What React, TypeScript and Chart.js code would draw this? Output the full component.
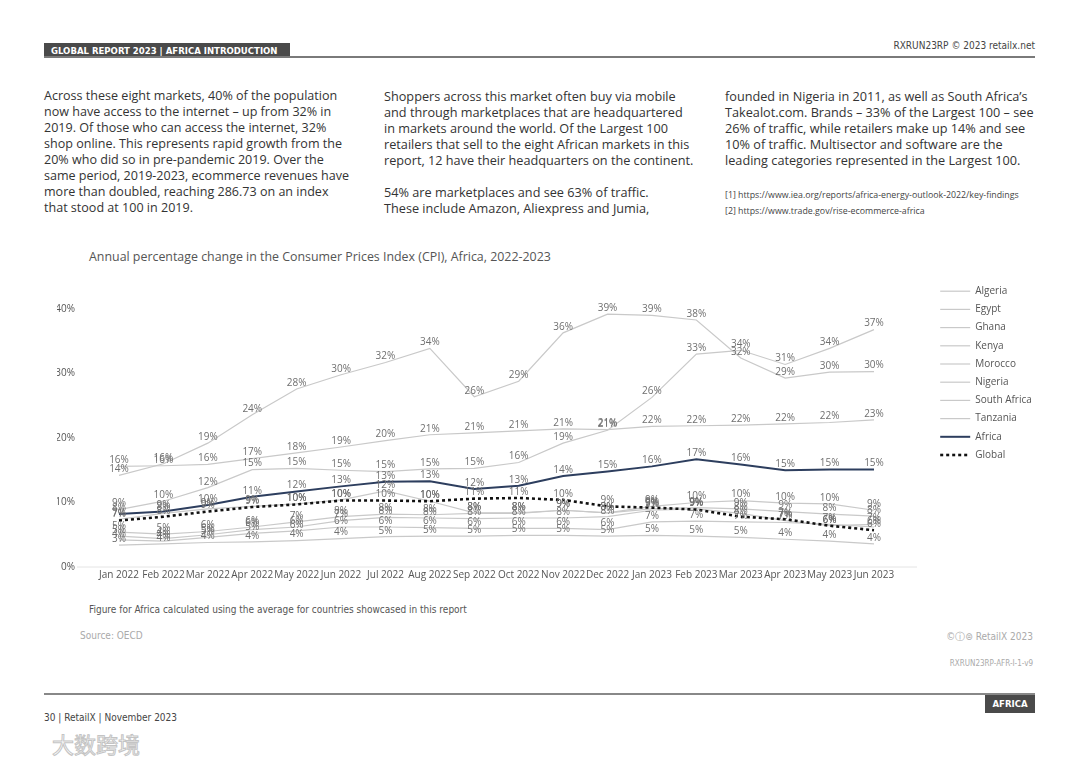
import React, { useEffect, useRef } from 'react';
import { Chart, registerables } from 'chart.js';

Chart.register(...registerables);

const months = [
  'Jan 2022', 'Feb 2022', 'Mar 2022', 'Apr 2022', 'May 2022', 'Jun 2022',
  'Jul 2022', 'Aug 2022', 'Sep 2022', 'Oct 2022', 'Nov 2022', 'Dec 2022',
  'Jan 2023', 'Feb 2023', 'Mar 2023', 'Apr 2023', 'May 2023', 'Jun 2023',
];

const algeria = [7.4, 8.3, 9.0, 9.4, 9.8, 10.4, 11.8, 10.2, 8.4, 8.4, 8.8, 8.4, 9.4, 10.0, 10.3, 9.9, 9.8, 8.8];
const egypt = [8.9, 10.2, 12.3, 15.1, 15.3, 15.0, 14.8, 15.2, 15.3, 16.2, 19.2, 21.2, 26.3, 33.0, 33.6, 31.4, 33.9, 36.8];
const ghana = [14.2, 16.0, 19.2, 23.6, 27.6, 29.8, 31.7, 33.9, 26.4, 28.8, 36.3, 39.2, 39.0, 38.3, 32.4, 29.3, 30.2, 30.3];
const kenya = [5.4, 5.1, 5.5, 6.2, 7.0, 7.8, 8.2, 8.1, 8.3, 8.3, 8.8, 8.4, 9.0, 9.2, 9.0, 8.6, 8.2, 7.9];
const morocco = [4.8, 4.4, 5.0, 5.8, 6.2, 7.2, 7.7, 7.6, 7.5, 7.6, 7.6, 7.8, 8.8, 9.0, 8.3, 7.2, 6.4, 6.6];
const nigeria = [15.6, 15.7, 15.9, 16.8, 17.7, 18.6, 19.6, 20.5, 20.8, 21.1, 21.4, 21.3, 21.8, 21.9, 22.0, 22.2, 22.4, 22.8];
const southAfrica = [4.2, 4.0, 4.6, 5.2, 5.6, 6.2, 6.2, 6.1, 6.0, 6.0, 6.0, 5.8, 7.0, 7.1, 7.0, 6.9, 6.6, 6.2];
const tanzania = [3.4, 3.6, 3.8, 3.9, 4.1, 4.4, 4.7, 4.8, 4.8, 4.9, 4.9, 4.8, 4.9, 4.8, 4.6, 4.3, 4.0, 3.6];
const africa = [8.2, 8.6, 9.6, 10.9, 11.7, 12.5, 13.2, 13.3, 12.1, 12.6, 14.1, 14.8, 15.6, 16.7, 15.9, 15.0, 15.1, 15.1];
const global = [7.2, 7.8, 8.6, 9.3, 9.7, 10.3, 10.3, 10.2, 10.6, 10.7, 10.4, 9.4, 9.2, 8.9, 7.8, 7.4, 6.4, 5.7];

const countryNames = ['Algeria', 'Egypt', 'Ghana', 'Kenya', 'Morocco', 'Nigeria', 'South Africa', 'Tanzania'];
const countrySeries = [algeria, egypt, ghana, kenya, morocco, nigeria, southAfrica, tanzania];

const yTickValues = [0, 10, 20, 30, 40];

const sans = "'Open Sans', 'Noto Sans', sans-serif";
const condensed = "'DejaVu Sans Condensed', 'Liberation Sans Narrow', 'DejaVu Sans', sans-serif";

const col1 = [
  'Across these eight markets, 40% of the population',
  'now have access to the internet – up from 32% in',
  '2019. Of those who can access the internet, 32%',
  'shop online. This represents rapid growth from the',
  '20% who did so in pre-pandemic 2019. Over the',
  'same period, 2019-2023, ecommerce revenues have',
  'more than doubled, reaching 286.73 on an index',
  'that stood at 100 in 2019.',
];
const col2 = [
  'Shoppers across this market often buy via mobile',
  'and through marketplaces that are headquartered',
  'in markets around the world. Of the Largest 100',
  'retailers that sell to the eight African markets in this',
  'report, 12 have their headquarters on the continent.',
  ' ',
  '54% are marketplaces and see 63% of traffic.',
  'These include Amazon, Aliexpress and Jumia,',
];
const col3 = [
  'founded in Nigeria in 2011, as well as South Africa’s',
  'Takealot.com. Brands – 33% of the Largest 100 – see',
  '26% of traffic, while retailers make up 14% and see',
  '10% of traffic. Multisector and software are the',
  'leading categories represented in the Largest 100.',
];
const notes = [
  '[1] https://www.iea.org/reports/africa-energy-outlook-2022/key-findings',
  '[2] https://www.trade.gov/rise-ecommerce-africa',
];

const pointLabelPlugin = {
  id: 'pointLabels',
  afterDatasetsDraw(chart: any) {
    const ctx = chart.ctx;
    ctx.save();
    ctx.font = `10px ${sans}`;
    ctx.fillStyle = '#6f6f6f';
    ctx.textAlign = 'center';
    ctx.textBaseline = 'middle';
    chart.data.datasets.forEach((ds: any, i: number) => {
      const meta = chart.getDatasetMeta(i);
      meta.data.forEach((pt: any, j: number) => {
        const v = ds.data[j];
        ctx.fillText(Math.round(v) + '%', pt.x, pt.y - 6);
      });
    });
    ctx.restore();
  },
};

const baselinePlugin = {
  id: 'baseline',
  beforeDatasetsDraw(chart: any) {
    const { ctx, chartArea } = chart;
    const y = chart.scales.y.getPixelForValue(0);
    ctx.save();
    ctx.strokeStyle = '#e4e4e4';
    ctx.lineWidth = 1;
    ctx.beginPath();
    ctx.moveTo(chartArea.left - 42, y);
    ctx.lineTo(chartArea.right + 43, y);
    ctx.stroke();
    ctx.restore();
  },
};

function CpiChart() {
  const ref = useRef<HTMLCanvasElement | null>(null);
  useEffect(() => {
    if (!ref.current) return;
    Chart.defaults.font.family = sans;
    const datasets: any[] = countryNames.map((name, i) => ({
      label: name,
      data: countrySeries[i],
      borderColor: '#c9c9c9',
      backgroundColor: '#c9c9c9',
      borderWidth: 1.2,
      pointRadius: 0,
      tension: 0,
      order: 3,
    }));
    datasets.push({
      label: 'Africa',
      data: africa,
      borderColor: '#2d3e5e',
      backgroundColor: '#2d3e5e',
      borderWidth: 2,
      pointRadius: 0,
      tension: 0,
      order: 2,
    });
    datasets.push({
      label: 'Global',
      data: global,
      borderColor: '#111111',
      backgroundColor: '#111111',
      borderWidth: 2.6,
      borderDash: [3, 3],
      pointRadius: 0,
      tension: 0,
      order: 1,
    });
    const chart = new Chart(ref.current, {
      type: 'line',
      data: { labels: months, datasets },
      options: {
        responsive: false,
        animation: false,
        layout: { padding: 0 },
        plugins: {
          tooltip: { enabled: false },
          title: {
            display: true,
            text: ' ',
            fullSize: false,
            padding: { top: 0, bottom: 19 },
            font: { size: 10, lineHeight: 1.2 },
          },
          legend: {
            display: true,
            position: 'right',
            align: 'start',
            maxWidth: 100,
            labels: {
              usePointStyle: true,
              pointStyle: 'line',
              pointStyleWidth: 30,
              padding: 8.2,
              color: '#555',
              font: { size: 10 },
              sort: (a: any, b: any) => a.datasetIndex - b.datasetIndex,
              generateLabels: (c: any) => {
                const base = (Chart as any).defaults.plugins.legend.labels.generateLabels(c);
                return base.map((item: any) => {
                  const ds = c.data.datasets[item.datasetIndex];
                  return {
                    ...item,
                    strokeStyle: ds.borderColor,
                    fillStyle: ds.borderColor,
                    lineWidth: ds.borderWidth,
                    lineDash: ds.borderDash || [],
                    pointStyle: 'line',
                  };
                });
              },
            },
          },
        },
        scales: {
          x: {
            grid: { display: false, drawTicks: false },
            border: { display: false },
            ticks: {
              color: '#555',
              font: { size: 10 },
              padding: 2,
              maxRotation: 0,
              minRotation: 0,
              autoSkip: false,
            },
          },
          y: {
            min: 0,
            max: 40,
            grid: { display: false, drawTicks: false },
            border: { display: false },
            afterBuildTicks: (scale: any) => {
              scale.ticks = yTickValues.map((v) => ({ value: v }));
            },
            afterFit: (scale: any) => {
              scale.width = 62;
              scale.paddingTop = 6;
              scale.paddingBottom = 6;
            },
            ticks: {
              color: '#555',
              font: { size: 10 },
              padding: 44,
              callback: (v: any) => v + '%',
            },
          },
          y2: {
            position: 'right',
            display: true,
            grid: { display: false, drawTicks: false },
            border: { display: false },
            ticks: { display: false, padding: 0 },
            afterFit: (scale: any) => {
              scale.width = 58;
              scale.paddingTop = 0;
              scale.paddingBottom = 0;
            },
          },
        },
      } as any,
      plugins: [pointLabelPlugin, baselinePlugin],
    });
    return () => chart.destroy();
  }, []);
  return (
    <canvas
      ref={ref}
      width={975}
      height={305}
      style={{ position: 'absolute', left: 57, top: 278, width: 975, height: 305 }}
    />
  );
}

const textBlock = (lines: string[], left: number, top: number, extra: any = {}) => (
  <div
    style={{
      position: 'absolute',
      left,
      top,
      fontFamily: sans,
      fontSize: 12.6,
      lineHeight: '16px',
      color: '#333',
      whiteSpace: 'pre',
      ...extra,
    }}
  >
    {lines.join('\n')}
  </div>
);

export default function App() {
  return (
    <div
      style={{
        position: 'absolute',
        left: 0,
        top: 0,
        width: 1080,
        height: 763,
        background: '#fff',
        overflow: 'hidden',
      }}
    >
      {/* header */}
      <div
        style={{
          position: 'absolute',
          left: 44,
          top: 43,
          width: 246,
          height: 14,
          background: '#4a4a4a',
          color: '#fff',
          fontFamily: condensed,
          fontWeight: 'bold',
          fontSize: 9.5,
          lineHeight: '15px',
          paddingLeft: 7,
          boxSizing: 'border-box',
          whiteSpace: 'nowrap',
        }}
      >
        GLOBAL REPORT 2023 | AFRICA INTRODUCTION
      </div>
      <div style={{ position: 'absolute', left: 44, top: 56, width: 991, height: 2, background: '#7a7a7a' }} />
      <div
        style={{
          position: 'absolute',
          right: 45,
          top: 40,
          fontFamily: condensed,
          fontSize: 10,
          color: '#444',
          whiteSpace: 'nowrap',
        }}
      >
        RXRUN23RP © 2023 retailx.net
      </div>

      {textBlock(col1, 44, 88, { fontSize: 12.55 })}
      {textBlock(col2, 384, 88, { fontSize: 12.7 })}
      {textBlock(col3, 725, 88, { fontSize: 12.7 })}
      {textBlock(notes, 725, 187, { fontSize: 8.8, lineHeight: '16px', color: '#444' })}

      <div
        style={{
          position: 'absolute',
          left: 89,
          top: 248,
          fontFamily: sans,
          fontSize: 12.4,
          color: '#555',
          whiteSpace: 'nowrap',
        }}
      >
        Annual percentage change in the Consumer Prices Index (CPI), Africa, 2022-2023
      </div>

      <CpiChart />

      <div
        style={{
          position: 'absolute',
          left: 89,
          top: 604,
          fontFamily: condensed,
          fontSize: 10,
          color: '#555',
          whiteSpace: 'nowrap',
        }}
      >
        Figure for Africa calculated using the average for countries showcased in this report
      </div>
      <div
        style={{
          position: 'absolute',
          left: 80,
          top: 630,
          fontFamily: condensed,
          fontSize: 10,
          color: '#aaa',
          whiteSpace: 'nowrap',
        }}
      >
        Source: OECD
      </div>
      <div
        style={{
          position: 'absolute',
          right: 47,
          top: 630,
          fontFamily: condensed,
          fontSize: 10,
          color: '#aaa',
          whiteSpace: 'nowrap',
        }}
      >
        ©ⓘ⊜ RetailX 2023
      </div>
      <div
        style={{
          position: 'absolute',
          right: 47,
          top: 659,
          fontFamily: condensed,
          fontSize: 8,
          color: '#aaa',
          whiteSpace: 'nowrap',
        }}
      >
        RXRUN23RP-AFR-I-1-v9
      </div>

      {/* footer */}
      <div style={{ position: 'absolute', left: 44, top: 693, width: 991, height: 2, background: '#888' }} />
      <div
        style={{
          position: 'absolute',
          left: 985,
          top: 695,
          width: 50,
          height: 18,
          background: '#4a4a4a',
          color: '#fff',
          fontFamily: condensed,
          fontWeight: 'bold',
          fontSize: 9.5,
          lineHeight: '18px',
          textAlign: 'center',
        }}
      >
        AFRICA
      </div>
      <div
        style={{
          position: 'absolute',
          left: 44,
          top: 712,
          fontFamily: condensed,
          fontSize: 10,
          color: '#444',
          whiteSpace: 'nowrap',
        }}
      >
        30 | RetailX | November 2023
      </div>
      <div
        style={{
          position: 'absolute',
          left: 52,
          top: 727,
          fontFamily: "'Noto Sans CJK SC', sans-serif",
          fontSize: 22,
          color: '#fff',
          WebkitTextStroke: '1px #c4c4c4',
          whiteSpace: 'nowrap',
        } as any}
      >
        大数跨境
      </div>
    </div>
  );
}
